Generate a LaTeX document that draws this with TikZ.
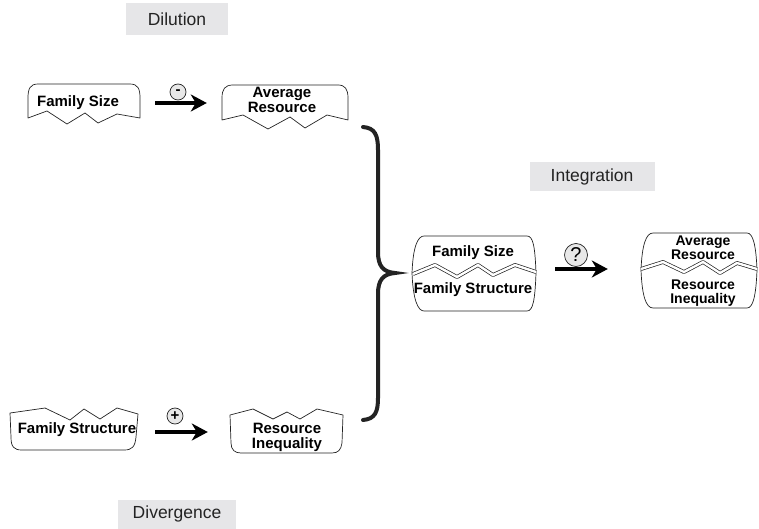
\documentclass[tikz,border=0pt]{standalone}
\usepackage{fontspec}
\setmainfont{Liberation Sans}
\usepackage{xcolor}
\definecolor{papiergris}{RGB}{35,35,35}
\definecolor{fondgris}{RGB}{230,230,232}
\definecolor{signegris}{RGB}{232,232,232}
\usetikzlibrary{positioning,calc,arrows.meta}

\begin{document}
\begin{tikzpicture}[x=1pt,y=-1pt,
    papier/.style={draw=papiergris, line width=0.7pt, line join=round},
    pli/.style={papier, double, double distance=2.4pt},
    etiquette/.style={fill=fondgris, text=papiergris, inner sep=0pt,
      font=\fontsize{17.5}{20}\selectfont},
    boite/.style={inner sep=0pt, align=center, text=black,
      font=\fontsize{15}{15}\selectfont\bfseries},
    fleche/.style={draw=black, line width=4.5pt,
      -{Stealth[length=16pt,width=17pt,inset=5pt]}},
    signe/.style={circle, draw=papiergris, fill=signegris, line width=0.7pt,
      inner sep=0pt, minimum size=16pt,
      font=\fontsize{15}{15}\selectfont\bfseries}]
  \useasboundingbox (0,0) rectangle (759,529);
  % Etiquettes grises des trois mecanismes
  \node[etiquette, minimum width=102pt, minimum height=32pt] (dilution)
    at (177,19) {Dilution};
  \node[etiquette, minimum width=125pt, minimum height=29pt] (integration)
    at (592,177) {Integration};
  \node[etiquette, minimum width=118pt, minimum height=29pt] (divergence)
    at (177,514) {Divergence};
  % Feuillets dechires : textes (les largeurs donnent les bords utiles)
  \node[boite, minimum width=124pt] (taille) at (78,103) {Family Size};
  \node[boite, minimum width=120pt] (moyenne) at (282,100)
    {Average\\Resource};
  \node[boite, minimum width=122pt] (structure) at (77,430)
    {Family Structure};
  \node[boite, minimum width=114pt] (inegalite) at (287,437)
    {Resource\\Inequality};
  \node[boite, minimum width=126pt] (fusion) at (473,271)
    {Family Size\\[22pt]Family Structure};
  \node[boite, minimum width=124pt, font=\fontsize{14}{13.5}\selectfont\bfseries]
    (bilan) at (703,271) {Average\\Resource\\[17pt]Resource\\Inequality};
  % Contours des feuillets
  \draw[papier] (28,118) -- (28,98) .. controls (28,89) and (30,84) .. (38,84)
    -- (130,84) .. controls (138,84) and (140,89) .. (140,98) -- (140,118)
    -- (117,114) -- (98,123) -- (85,113) -- (67,124) -- (47,111) -- cycle;
  \draw[papier] (222,120) -- (222,98) .. controls (222,89) and (225,85) .. (233,85)
    -- (338,85) .. controls (345,85) and (348,89) .. (348,98) -- (348,120)
    -- (327,115) -- (305,128) -- (290,117) -- (268,129) -- (243,115) -- cycle;
  \draw[papier] (10,413) -- (45,408) -- (70,420) -- (84,409) -- (100,419)
    -- (117,408) -- (138,414) -- (136,437) .. controls (135,447) and (132,450) .. (124,450)
    -- (22,450) .. controls (14,450) and (11,447) .. (11,437) -- cycle;
  \draw[papier] (230,415) -- (253,409) -- (273,419) -- (287,412) -- (300,419)
    -- (317,409) -- (343,415) -- (342,443) .. controls (341,450) and (338,453) .. (332,453)
    -- (241,453) .. controls (235,453) and (231,450) .. (231,443) -- cycle;
  \draw[papier] (424,236) -- (527,236) .. controls (533,236) and (535,246) .. (536,273)
    .. controls (535,300) and (533,311) .. (527,311) -- (424,311)
    .. controls (418,311) and (413,300) .. (412,273)
    .. controls (413,246) and (418,236) .. (424,236);
  \draw[papier] (653,233) -- (747,233) .. controls (753,233) and (756,245) .. (757,270)
    .. controls (756,296) and (753,308) .. (747,308) -- (653,308)
    .. controls (646,308) and (642,296) .. (641,270)
    .. controls (642,245) and (646,233) .. (653,233);
  % Plis doubles des feuillets reunis
  \draw[pli] (413,274) -- (435,265) -- (457,277) -- (478,265) -- (493,275)
    -- (515,265) -- (536,272);
  \draw[pli] (641,269) -- (663,262) -- (684,272) -- (703,262) -- (720,273)
    -- (737,263) -- (757,269);
  % Fleches et signes
  \draw[fleche, shorten <=15pt, shorten >=15pt]
    (taille.east) -- (taille.east -| moyenne.west);
  \draw[fleche, shorten <=17pt, shorten >=22pt]
    ([yshift=-2pt]structure.east) -- ([yshift=-2pt]structure.east -| inegalite.west);
  \draw[fleche, shorten <=19pt, shorten >=33pt]
    ([yshift=2pt]fusion.east) -- ([yshift=2pt]fusion.east -| bilan.west);
  \node[signe] (moins) at (178,92) {-};
  \node[signe] (plus) at (175,416) {+};
  \node[signe, minimum size=23pt, font=\fontsize{20}{20}\selectfont]
    (question) at (576,255) {?};
  % Accolade de regroupement
  \draw[papiergris, line width=4pt, line cap=round]
    (363,127) .. controls (375,128) and (378,135) .. (378,150) -- (378,252)
    .. controls (378,266) and (383,272) .. (395,273)
    .. controls (383,274) and (378,280) .. (378,294) -- (378,398)
    .. controls (378,412) and (375,419) .. (363,420);
\end{tikzpicture}
\end{document}
